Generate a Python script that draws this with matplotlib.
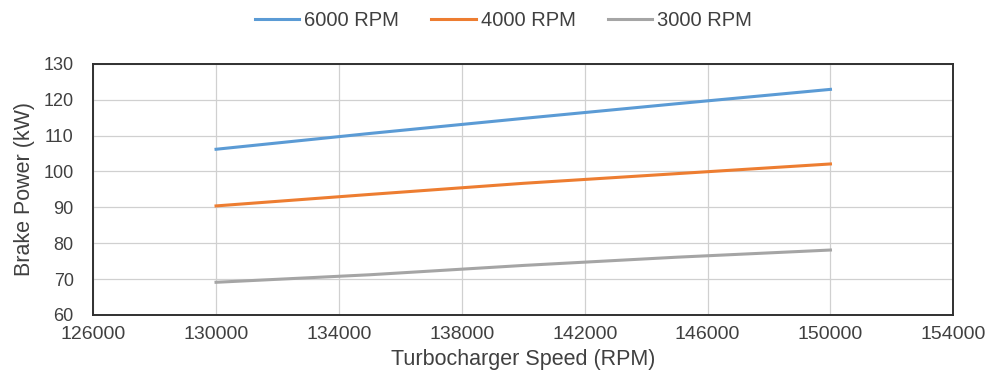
import matplotlib
matplotlib.use("Agg")
import matplotlib.pyplot as plt

plt.rcParams["font.family"] = ["Liberation Sans", "DejaVu Sans"]

# Turbocharger speed (RPM) vs brake power (kW)
SPEED = [130000, 135000, 140000, 145000, 150000]
P_6000 = [106.2, 110.6, 114.8, 118.9, 122.9]
P_4000 = [90.4, 93.6, 96.7, 99.4, 102.1]
P_3000 = [69.1, 71.2, 73.8, 76.1, 78.1]

SERIES = [
    ("6000 RPM", P_6000, "#5B9BD5"),
    ("4000 RPM", P_4000, "#ED7D31"),
    ("3000 RPM", P_3000, "#A5A5A5"),
]

X_TICKS = list(range(126000, 154001, 4000))
Y_TICKS = list(range(60, 131, 10))

TEXT = "#404040"


def main():
    fig = plt.figure(figsize=(9.91, 3.85), dpi=100)
    ax = fig.add_axes([0.094, 0.182, 0.868, 0.652])

    for label, vals, color in SERIES:
        ax.plot(SPEED, vals, color=color, linewidth=2.2, label=label)

    ax.set_xlim(X_TICKS[0], X_TICKS[-1])
    ax.set_ylim(Y_TICKS[0], Y_TICKS[-1])
    ax.set_xticks(X_TICKS)
    ax.set_yticks(Y_TICKS)
    ax.tick_params(axis="x", length=0, labelsize=14, colors=TEXT, pad=8)
    ax.tick_params(axis="y", length=0, labelsize=13, colors=TEXT, pad=14)
    ax.grid(True, color="#D0D0D0", linewidth=0.9)
    ax.set_axisbelow(True)
    for sp in ax.spines.values():
        sp.set_color("#303030")
        sp.set_linewidth(1.4)

    ax.set_xlabel("Turbocharger Speed (RPM)", fontsize=15.5, color=TEXT, labelpad=4)
    ax.set_ylabel("Brake Power (kW)", fontsize=15.5, color=TEXT, labelpad=6)

    fig.legend(loc="center", bbox_to_anchor=(0.508, 0.946), ncol=3, frameon=False,
               fontsize=14.5, handlelength=2.2, handletextpad=0.25, columnspacing=1.6,
               labelcolor=TEXT)

    fig.savefig("out.png", dpi=100)


if __name__ == "__main__":
    main()
